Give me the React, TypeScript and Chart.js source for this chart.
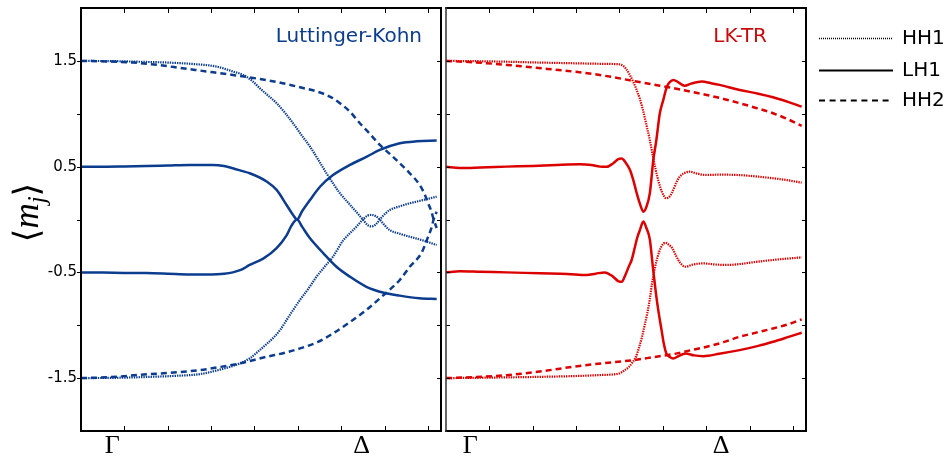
import { useEffect, useRef } from 'react';
import { Chart, registerables } from 'chart.js';

Chart.register(...registerables);

type Pt = [number, number];

// ---- axes ----
const X_MIN = 0;
const X_MAX = 8.3;
const Y_MIN = -2;
const Y_MAX = 2;
const xTickValues = [1, 2, 3, 4, 5, 6, 7, 8];
const yTickValues = [-1.5, -1, -0.5, 0, 0.5, 1, 1.5];
const yLabelValues = [-1.5, -0.5, 0.5, 1.5];
const yLabelTexts = ['-1.5', '-0.5', '0.5', '1.5'];
const symmetryLabels = ['Γ', 'Δ'];
const lkSymmetryPos = [0.72, 6.47];
const lktrSymmetryPos = [0.56, 6.34];
const legendLabels = ['HH1', 'LH1', 'HH2'];

// ---- Luttinger-Kohn: <m_j> of each subband vs k ----
const lkHH1Up: Pt[] = [
  [0, 1.5], [0.8, 1.497], [1.5, 1.49], [2.0, 1.484], [2.6, 1.47], [3.13, 1.446], [3.5, 1.4],
  [3.74, 1.367], [3.95, 1.31], [4.12, 1.242], [4.32, 1.17], [4.51, 1.1], [4.7, 1.01], [4.89, 0.91],
  [5.08, 0.8], [5.28, 0.689], [5.47, 0.565], [5.66, 0.437], [5.83, 0.33], [5.97, 0.248], [6.2, 0.14],
  [6.35, 0.07], [6.5, 0.0], [6.6, -0.05], [6.7, -0.065], [6.8, -0.045], [6.89, 0.0], [7.0, 0.05],
  [7.12, 0.09], [7.35, 0.125], [7.58, 0.153], [7.9, 0.185], [8.2, 0.216],
];
const lkHH1Lo: Pt[] = [
  [0, -1.5], [0.8, -1.497], [1.59, -1.488], [2.2, -1.478], [2.74, -1.462], [3.2, -1.42], [3.66, -1.361],
  [3.9, -1.31], [4.12, -1.235], [4.3, -1.17], [4.43, -1.12], [4.6, -1.04], [4.74, -0.95], [4.9, -0.85],
  [5.05, -0.76], [5.25, -0.65], [5.43, -0.541], [5.62, -0.445], [5.81, -0.352], [6.04, -0.2], [6.2, -0.13],
  [6.35, -0.068], [6.5, 0.0], [6.6, 0.035], [6.7, 0.043], [6.8, 0.03], [6.89, 0.0], [7.0, -0.055],
  [7.12, -0.1], [7.35, -0.135], [7.58, -0.163], [7.9, -0.2], [8.2, -0.241],
];
const lkLH1Up: Pt[] = [
  [0, 0.5], [0.5, 0.5], [1, 0.502], [1.5, 0.505], [2, 0.51], [2.5, 0.515], [3.04, 0.515], [3.3, 0.505],
  [3.5, 0.485], [3.7, 0.46], [3.89, 0.437], [4.28, 0.36], [4.51, 0.28], [4.74, 0.137], [4.89, 0.043],
  [4.98, 0.0], [5.1, 0.08], [5.28, 0.185], [5.51, 0.31], [5.81, 0.42], [6.2, 0.516], [6.59, 0.594],
  [6.89, 0.658], [7.35, 0.721], [7.74, 0.74], [8.2, 0.746],
];
const lkLH1Lo: Pt[] = [
  [0, -0.5], [0.5, -0.502], [1, -0.505], [1.5, -0.507], [2, -0.513], [2.5, -0.52], [3, -0.52],
  [3.3, -0.513], [3.5, -0.5], [3.7, -0.475], [3.89, -0.43], [4.2, -0.37], [4.51, -0.27], [4.74, -0.15],
  [4.85, -0.06], [4.98, 0.0], [5.1, -0.07], [5.28, -0.178], [5.59, -0.32], [5.89, -0.447], [6.2, -0.541],
  [6.58, -0.636], [6.96, -0.69], [7.35, -0.72], [7.8, -0.745], [8.2, -0.752],
];
const lkHH2Up: Pt[] = [
  [0, 1.5], [0.6, 1.495], [1.2, 1.484], [1.8, 1.46], [2.34, 1.43], [2.9, 1.4], [3.5, 1.367], [4.1, 1.33],
  [4.65, 1.289], [5.05, 1.25], [5.44, 1.21], [5.75, 1.16], [5.97, 1.1], [6.2, 1.02], [6.43, 0.91],
  [6.66, 0.81], [6.89, 0.705], [7.12, 0.62], [7.35, 0.532], [7.55, 0.45], [7.81, 0.326], [7.93, 0.232],
  [8.0, 0.156], [8.08, 0.074], [8.13, 0.0], [8.2, -0.08],
];
const lkHH2Lo: Pt[] = [
  [0, -1.5], [0.6, -1.492], [1.59, -1.462], [2.2, -1.445], [2.74, -1.424], [3.2, -1.395], [3.66, -1.361],
  [4.28, -1.298], [4.7, -1.26], [5.05, -1.219], [5.45, -1.16], [5.81, -1.077], [6.2, -0.97],
  [6.58, -0.856], [6.96, -0.72], [7.35, -0.572], [7.58, -0.447], [7.85, -0.317], [7.93, -0.241],
  [8.0, -0.166], [8.08, -0.08], [8.13, 0.0], [8.2, 0.074],
];

// ---- LK-TR: <m_j> of each subband vs k ----
const lktrHH1Up: Pt[] = [
  [0, 1.5], [0.7, 1.497], [1.4, 1.492], [2.16, 1.484], [3.0, 1.477], [3.6, 1.472], [3.93, 1.469],
  [4.05, 1.462], [4.14, 1.43], [4.22, 1.38], [4.32, 1.3], [4.4, 1.22], [4.47, 1.14], [4.55, 1.02],
  [4.63, 0.878], [4.7, 0.75], [4.77, 0.6], [4.83, 0.48], [4.9, 0.36], [4.98, 0.26], [5.08, 0.2],
  [5.16, 0.22], [5.24, 0.28], [5.31, 0.35], [5.39, 0.405], [5.5, 0.44], [5.62, 0.452], [5.8, 0.433],
  [6.0, 0.421], [6.31, 0.424], [6.77, 0.42], [7.2, 0.405], [7.54, 0.39], [7.9, 0.37], [8.2, 0.348],
];
const lktrHH1Lo: Pt[] = [
  [0, -1.5], [0.7, -1.497], [1.4, -1.493], [2.16, -1.488], [3.0, -1.48], [3.6, -1.47], [3.99, -1.456],
  [4.1, -1.43], [4.22, -1.393], [4.3, -1.35], [4.38, -1.298], [4.45, -1.21], [4.52, -1.109], [4.58, -1.0],
  [4.64, -0.888], [4.7, -0.75], [4.75, -0.604], [4.81, -0.47], [4.88, -0.352], [4.96, -0.26],
  [5.06, -0.22], [5.14, -0.24], [5.22, -0.273], [5.3, -0.34], [5.4, -0.41], [5.52, -0.447],
  [5.7, -0.425], [5.93, -0.415], [6.2, -0.425], [6.47, -0.43], [6.8, -0.42], [7.16, -0.4],
  [7.6, -0.38], [8.2, -0.358],
];
const lktrLH1Up: Pt[] = [
  [0, 0.5], [0.32, 0.487], [0.8, 0.492], [1.4, 0.5], [2.0, 0.507], [2.55, 0.516], [3.09, 0.522],
  [3.35, 0.515], [3.55, 0.5], [3.7, 0.498], [3.85, 0.53], [3.97, 0.57], [4.05, 0.576], [4.14, 0.54],
  [4.24, 0.47], [4.32, 0.37], [4.39, 0.26], [4.47, 0.15], [4.55, 0.074], [4.62, 0.12], [4.7, 0.25],
  [4.78, 0.563], [4.85, 0.752], [4.93, 1.005], [5.01, 1.131], [5.08, 1.24], [5.14, 1.29], [5.24, 1.32],
  [5.35, 1.3], [5.5, 1.265], [5.65, 1.285], [5.9, 1.304], [6.1, 1.29], [6.31, 1.273], [6.77, 1.225],
  [7.2, 1.19], [7.54, 1.156], [7.9, 1.11], [8.2, 1.067],
];
const lktrLH1Lo: Pt[] = [
  [0, -0.5], [0.32, -0.49], [0.8, -0.495], [1.4, -0.5], [2.16, -0.509], [2.8, -0.515], [3.24, -0.525],
  [3.45, -0.512], [3.66, -0.5], [3.85, -0.54], [3.98, -0.585], [4.05, -0.589], [4.14, -0.52],
  [4.22, -0.44], [4.28, -0.383], [4.35, -0.27], [4.41, -0.17], [4.47, -0.1], [4.55, -0.02],
  [4.62, -0.08], [4.7, -0.19], [4.77, -0.45], [4.85, -0.73], [4.91, -0.9], [4.97, -1.046],
  [5.02, -1.17], [5.08, -1.266], [5.16, -1.3], [5.24, -1.314], [5.35, -1.295], [5.52, -1.266],
  [5.72, -1.285], [5.93, -1.292], [6.3, -1.27], [6.77, -1.235], [7.2, -1.195], [7.54, -1.156],
  [7.9, -1.11], [8.2, -1.071],
];
const lktrHH2Up: Pt[] = [
  [0, 1.5], [0.7, 1.485], [1.4, 1.462], [2.2, 1.43], [2.93, 1.399], [3.4, 1.375], [3.85, 1.346],
  [4.32, 1.31], [4.8, 1.275], [5.24, 1.242], [5.6, 1.212], [6.01, 1.178], [6.4, 1.14], [6.77, 1.1],
  [7.15, 1.055], [7.54, 1.005], [7.9, 0.945], [8.2, 0.885],
];
const lktrHH2Lo: Pt[] = [
  [0, -1.5], [0.7, -1.49], [1.4, -1.472], [2.2, -1.435], [2.93, -1.393], [3.6, -1.36], [4.32, -1.33],
  [4.8, -1.3], [5.24, -1.273], [5.6, -1.24], [6.01, -1.204], [6.4, -1.16], [6.77, -1.109],
  [7.15, -1.07], [7.54, -1.03], [7.9, -0.99], [8.2, -0.944],
];

// ---- styles ----
const BLUE = '#0b3c8e';
const RED = '#dc0000';
const SANS = '"DejaVu Sans", "Bitstream Vera Sans", sans-serif';
const SERIF = '"Liberation Serif", "DejaVu Serif", serif';

const lineStyles: Record<string, { borderWidth: number; borderDash: number[] }> = {
  HH1: { borderWidth: 2.2, borderDash: [1.4, 1] },
  LH1: { borderWidth: 2.5, borderDash: [] },
  HH2: { borderWidth: 2.5, borderDash: [6, 4] },
};

function buildDatasets(color: string, curves: { kind: string; pts: Pt[] }[]) {
  return curves.map(({ kind, pts }) => ({
    label: kind,
    data: pts.map(([x, y]) => ({ x, y })),
    borderColor: color,
    backgroundColor: color,
    borderWidth: lineStyles[kind].borderWidth,
    borderDash: lineStyles[kind].borderDash,
    pointRadius: 0,
    fill: false,
    cubicInterpolationMode: 'monotone' as const,
  }));
}

// tick marks and the frame round the plot area
function framePlugin(leftTicksOut: boolean, leftEdge: { width: number; color: string }) {
  return {
    id: 'frame',
    afterDatasetsDraw(chart: any) {
      const { ctx, chartArea: a, scales } = chart;
      const xs = scales.x;
      const ys = scales.y;
      ctx.save();
      ctx.strokeStyle = '#000';
      ctx.lineWidth = 1;
      ctx.beginPath();
      for (const v of xTickValues) {
        const px = Math.round(xs.getPixelForValue(v)) + 0.5;
        ctx.moveTo(px, a.top);
        ctx.lineTo(px, a.top + 5);
        ctx.moveTo(px, a.bottom);
        ctx.lineTo(px, a.bottom - 5);
      }
      for (const v of yTickValues) {
        const py = Math.round(ys.getPixelForValue(v)) + 0.5;
        if (leftTicksOut) {
          ctx.moveTo(a.left - 4, py);
          ctx.lineTo(a.left, py);
        } else {
          ctx.moveTo(a.left, py);
          ctx.lineTo(a.left + 4, py);
        }
        ctx.moveTo(a.right, py);
        ctx.lineTo(a.right - 4, py);
      }
      ctx.stroke();
      ctx.lineWidth = 2;
      ctx.beginPath();
      ctx.moveTo(a.left - 1, a.top);
      ctx.lineTo(a.right, a.top);
      ctx.lineTo(a.right, a.bottom);
      ctx.lineTo(a.left - 1, a.bottom);
      ctx.stroke();
      ctx.lineWidth = leftEdge.width;
      ctx.strokeStyle = leftEdge.color;
      ctx.beginPath();
      ctx.moveTo(a.left, a.top - 1);
      ctx.lineTo(a.left, a.bottom + 1);
      ctx.stroke();
      ctx.restore();
    },
  };
}

function titlePlugin(text: string, color: string, rightInset: number) {
  return {
    id: 'panelTitle',
    afterDraw(chart: any) {
      const { ctx, chartArea: a } = chart;
      ctx.save();
      ctx.font = `20px ${SANS}`;
      ctx.fillStyle = color;
      ctx.textAlign = 'right';
      ctx.textBaseline = 'alphabetic';
      ctx.fillText(text, a.right - rightInset, a.top + 34);
      ctx.restore();
    },
  };
}

// rotated <m_j> label on the left of the first panel
const yTitlePlugin = {
  id: 'yTitle',
  afterDraw(chart: any) {
    const { ctx, chartArea: a } = chart;
    const parts = [
      { t: '⟨', font: `35px ${SERIF}`, dy: 0 },
      { t: 'm', font: `italic 35px ${SERIF}`, dy: 0 },
      { t: 'j', font: `italic 25px ${SERIF}`, dy: 7 },
      { t: '⟩', font: `35px ${SERIF}`, dy: 0 },
    ];
    ctx.save();
    let total = 0;
    const widths = parts.map((p) => {
      ctx.font = p.font;
      const w = ctx.measureText(p.t).width;
      total += w;
      return w;
    });
    ctx.translate(38, (a.top + a.bottom) / 2 - 7);
    ctx.rotate(-Math.PI / 2);
    ctx.fillStyle = '#000';
    ctx.textBaseline = 'alphabetic';
    ctx.textAlign = 'left';
    let x = -total / 2;
    parts.forEach((p, i) => {
      ctx.font = p.font;
      ctx.fillText(p.t, x, p.dy);
      x += widths[i];
    });
    ctx.restore();
  },
};

// line-style key to the right of the second panel
const legendPlugin = {
  id: 'styleKey',
  afterDraw(chart: any) {
    const { ctx, chartArea: a } = chart;
    const rows = [38, 70, 100];
    ctx.save();
    legendLabels.forEach((name, i) => {
      const y = rows[i] + 0.5;
      const st = lineStyles[name];
      ctx.strokeStyle = '#000';
      ctx.lineWidth = name === 'HH1' ? 1.5 : st.borderWidth - 0.3;
      ctx.setLineDash(name === 'HH2' ? [6, 4.6] : name === 'HH1' ? [1, 1] : st.borderDash);
      ctx.beginPath();
      ctx.moveTo(a.right + 13, y);
      ctx.lineTo(a.right + 87, y);
      ctx.stroke();
      ctx.setLineDash([]);
      ctx.font = `20px ${SANS}`;
      ctx.fillStyle = '#000';
      ctx.textAlign = 'left';
      ctx.textBaseline = 'middle';
      ctx.fillText(name, a.right + 96, y);
    });
    ctx.restore();
  },
};

function makeConfig(opts: {
  datasets: any[];
  symPos: number[];
  showY: boolean;
  padding: { left: number; right: number; top: number; bottom: number };
  plugins: any[];
}): any {
  return {
    type: 'line',
    data: { datasets: opts.datasets },
    plugins: opts.plugins,
    options: {
      responsive: false,
      maintainAspectRatio: false,
      animation: false,
      events: [],
      layout: { padding: opts.padding },
      plugins: { legend: { display: false }, tooltip: { enabled: false }, title: { display: false } },
      scales: {
        x: { type: 'linear', min: X_MIN, max: X_MAX, display: false },
        sym: {
          type: 'linear',
          axis: 'x',
          position: 'bottom',
          min: X_MIN,
          max: X_MAX,
          grid: { display: false },
          border: { display: false },
          afterBuildTicks: (s: any) => {
            s.ticks = opts.symPos.map((v) => ({ value: v }));
          },
          ticks: {
            autoSkip: false,
            maxRotation: 0,
            padding: -8,
            color: '#000',
            font: { family: SERIF, size: 26 },
            callback: (_v: number, i: number) => symmetryLabels[i],
          },
          afterFit: (s: any) => {
            s.height = 30;
            s.paddingLeft = 0;
            s.paddingRight = 0;
          },
        },
        y: {
          type: 'linear',
          min: Y_MIN,
          max: Y_MAX,
          display: opts.showY,
          grid: { display: false, drawTicks: false },
          border: { display: false },
          afterBuildTicks: (s: any) => {
            s.ticks = yLabelValues.map((v) => ({ value: v }));
          },
          ticks: {
            padding: 4,
            color: '#000',
            font: { family: SANS, size: 15 },
            callback: (_v: number, i: number) => yLabelTexts[i],
          },
          afterFit: (s: any) => {
            s.width = opts.showY ? 81 : 0;
            s.paddingTop = 0;
            s.paddingBottom = 0;
          },
        },
      },
    },
  };
}

function ChartCanvas({ config, left, width, height }: { config: () => any; left: number; width: number; height: number }) {
  const ref = useRef<HTMLCanvasElement>(null);
  useEffect(() => {
    const chart = new Chart(ref.current as HTMLCanvasElement, config());
    return () => chart.destroy();
  }, []);
  return (
    <canvas
      ref={ref}
      width={width}
      height={height}
      style={{ position: 'absolute', left, top: 0, width, height, display: 'block' }}
    />
  );
}

export default function App() {
  const lkConfig = () =>
    makeConfig({
      datasets: buildDatasets(BLUE, [
        { kind: 'HH2', pts: lkHH2Up },
        { kind: 'HH2', pts: lkHH2Lo },
        { kind: 'LH1', pts: lkLH1Up },
        { kind: 'LH1', pts: lkLH1Lo },
        { kind: 'HH1', pts: lkHH1Up },
        { kind: 'HH1', pts: lkHH1Lo },
      ]),
      symPos: lkSymmetryPos,
      showY: true,
      padding: { left: 0, right: 3, top: 8, bottom: 0 },
      plugins: [
        framePlugin(true, { width: 2, color: '#000' }),
        titlePlugin('Luttinger-Kohn', BLUE, 19),
        yTitlePlugin,
      ],
    });
  const lktrConfig = () =>
    makeConfig({
      datasets: buildDatasets(RED, [
        { kind: 'HH2', pts: lktrHH2Up },
        { kind: 'HH2', pts: lktrHH2Lo },
        { kind: 'LH1', pts: lktrLH1Up },
        { kind: 'LH1', pts: lktrLH1Lo },
        { kind: 'HH1', pts: lktrHH1Up },
        { kind: 'HH1', pts: lktrHH1Lo },
      ]),
      symPos: lktrSymmetryPos,
      showY: false,
      padding: { left: 2, right: 143, top: 8, bottom: 0 },
      plugins: [
        framePlugin(false, { width: 1.5, color: '#333' }),
        titlePlugin('LK-TR', '#c80c0c', 39),
        legendPlugin,
      ],
    });
  return (
    <div style={{ position: 'absolute', left: 0, top: 0, width: 949, height: 461, background: '#fff' }}>
      <ChartCanvas config={lkConfig} left={0} width={444} height={461} />
      <ChartCanvas config={lktrConfig} left={444} width={505} height={461} />
    </div>
  );
}
